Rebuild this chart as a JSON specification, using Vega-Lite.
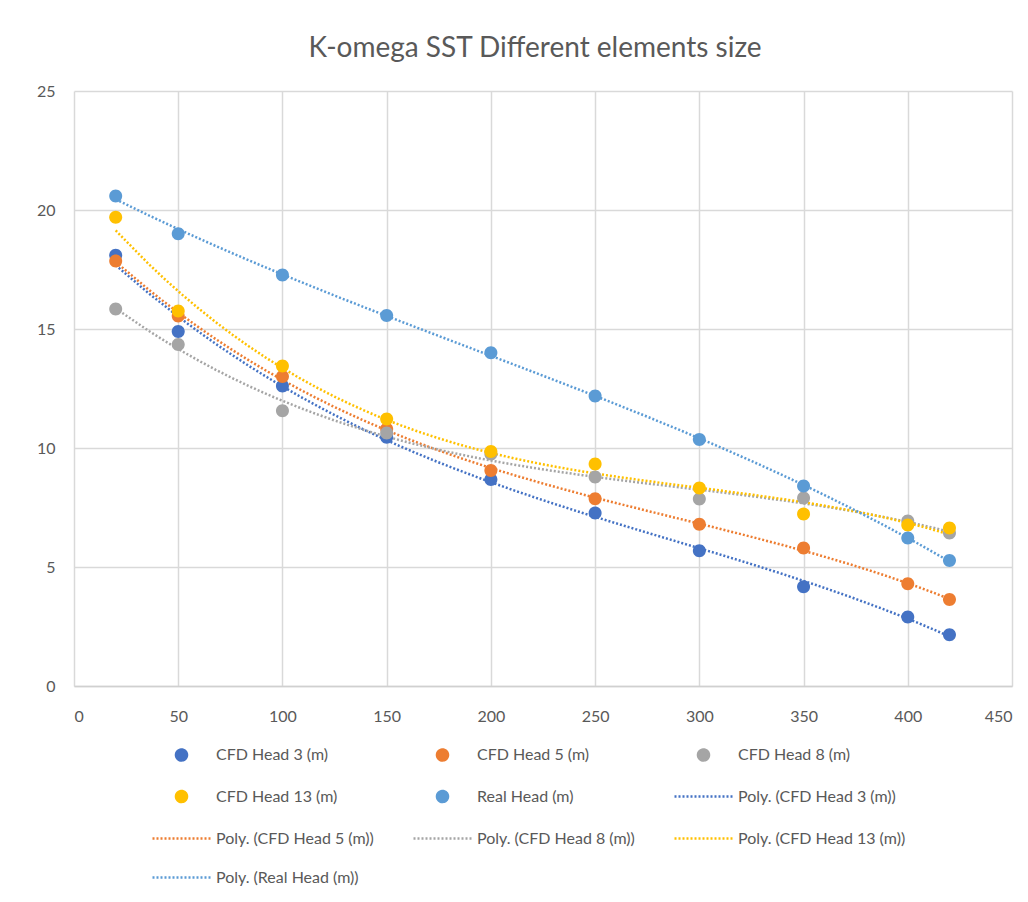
{
  "$schema": "https://vega.github.io/schema/vega-lite/v6.json",
  "width": 938,
  "height": 595,
  "padding": {"left": 36, "top": 35, "right": 16, "bottom": 10},
  "background": "white",
  "title": {
    "text": "K-omega SST Different elements size",
    "font": "Lato",
    "fontSize": 28,
    "fontWeight": "normal",
    "color": "#595959",
    "anchor": "middle",
    "dx": -8,
    "offset": 20
  },
  "data": {
    "values": [
      {"x": 20, "head": 18.1, "series": "CFD Head 3 (m)", "trend": "Poly. (CFD Head 3 (m))"},
      {"x": 50, "head": 14.9, "series": "CFD Head 3 (m)", "trend": "Poly. (CFD Head 3 (m))"},
      {"x": 100, "head": 12.6, "series": "CFD Head 3 (m)", "trend": "Poly. (CFD Head 3 (m))"},
      {"x": 150, "head": 10.45, "series": "CFD Head 3 (m)", "trend": "Poly. (CFD Head 3 (m))"},
      {"x": 200, "head": 8.68, "series": "CFD Head 3 (m)", "trend": "Poly. (CFD Head 3 (m))"},
      {"x": 250, "head": 7.27, "series": "CFD Head 3 (m)", "trend": "Poly. (CFD Head 3 (m))"},
      {"x": 300, "head": 5.68, "series": "CFD Head 3 (m)", "trend": "Poly. (CFD Head 3 (m))"},
      {"x": 350, "head": 4.17, "series": "CFD Head 3 (m)", "trend": "Poly. (CFD Head 3 (m))"},
      {"x": 400, "head": 2.9, "series": "CFD Head 3 (m)", "trend": "Poly. (CFD Head 3 (m))"},
      {"x": 420, "head": 2.15, "series": "CFD Head 3 (m)", "trend": "Poly. (CFD Head 3 (m))"},
      {"x": 20, "head": 17.86, "series": "CFD Head 5 (m)", "trend": "Poly. (CFD Head 5 (m))"},
      {"x": 50, "head": 15.55, "series": "CFD Head 5 (m)", "trend": "Poly. (CFD Head 5 (m))"},
      {"x": 100, "head": 13.0, "series": "CFD Head 5 (m)", "trend": "Poly. (CFD Head 5 (m))"},
      {"x": 150, "head": 10.8, "series": "CFD Head 5 (m)", "trend": "Poly. (CFD Head 5 (m))"},
      {"x": 200, "head": 9.05, "series": "CFD Head 5 (m)", "trend": "Poly. (CFD Head 5 (m))"},
      {"x": 250, "head": 7.87, "series": "CFD Head 5 (m)", "trend": "Poly. (CFD Head 5 (m))"},
      {"x": 300, "head": 6.8, "series": "CFD Head 5 (m)", "trend": "Poly. (CFD Head 5 (m))"},
      {"x": 350, "head": 5.8, "series": "CFD Head 5 (m)", "trend": "Poly. (CFD Head 5 (m))"},
      {"x": 400, "head": 4.3, "series": "CFD Head 5 (m)", "trend": "Poly. (CFD Head 5 (m))"},
      {"x": 420, "head": 3.63, "series": "CFD Head 5 (m)", "trend": "Poly. (CFD Head 5 (m))"},
      {"x": 20, "head": 15.84, "series": "CFD Head 8 (m)", "trend": "Poly. (CFD Head 8 (m))"},
      {"x": 50, "head": 14.35, "series": "CFD Head 8 (m)", "trend": "Poly. (CFD Head 8 (m))"},
      {"x": 100, "head": 11.57, "series": "CFD Head 8 (m)", "trend": "Poly. (CFD Head 8 (m))"},
      {"x": 150, "head": 10.63, "series": "CFD Head 8 (m)", "trend": "Poly. (CFD Head 8 (m))"},
      {"x": 200, "head": 9.75, "series": "CFD Head 8 (m)", "trend": "Poly. (CFD Head 8 (m))"},
      {"x": 250, "head": 8.78, "series": "CFD Head 8 (m)", "trend": "Poly. (CFD Head 8 (m))"},
      {"x": 300, "head": 7.86, "series": "CFD Head 8 (m)", "trend": "Poly. (CFD Head 8 (m))"},
      {"x": 350, "head": 7.9, "series": "CFD Head 8 (m)", "trend": "Poly. (CFD Head 8 (m))"},
      {"x": 400, "head": 6.93, "series": "CFD Head 8 (m)", "trend": "Poly. (CFD Head 8 (m))"},
      {"x": 420, "head": 6.43, "series": "CFD Head 8 (m)", "trend": "Poly. (CFD Head 8 (m))"},
      {"x": 20, "head": 19.7, "series": "CFD Head 13 (m)", "trend": "Poly. (CFD Head 13 (m))"},
      {"x": 50, "head": 15.76, "series": "CFD Head 13 (m)", "trend": "Poly. (CFD Head 13 (m))"},
      {"x": 100, "head": 13.45, "series": "CFD Head 13 (m)", "trend": "Poly. (CFD Head 13 (m))"},
      {"x": 150, "head": 11.22, "series": "CFD Head 13 (m)", "trend": "Poly. (CFD Head 13 (m))"},
      {"x": 200, "head": 9.85, "series": "CFD Head 13 (m)", "trend": "Poly. (CFD Head 13 (m))"},
      {"x": 250, "head": 9.33, "series": "CFD Head 13 (m)", "trend": "Poly. (CFD Head 13 (m))"},
      {"x": 300, "head": 8.32, "series": "CFD Head 13 (m)", "trend": "Poly. (CFD Head 13 (m))"},
      {"x": 350, "head": 7.23, "series": "CFD Head 13 (m)", "trend": "Poly. (CFD Head 13 (m))"},
      {"x": 400, "head": 6.76, "series": "CFD Head 13 (m)", "trend": "Poly. (CFD Head 13 (m))"},
      {"x": 420, "head": 6.64, "series": "CFD Head 13 (m)", "trend": "Poly. (CFD Head 13 (m))"},
      {"x": 20, "head": 20.59, "series": "Real Head (m)", "trend": "Poly. (Real Head (m))"},
      {"x": 50, "head": 19.0, "series": "Real Head (m)", "trend": "Poly. (Real Head (m))"},
      {"x": 100, "head": 17.27, "series": "Real Head (m)", "trend": "Poly. (Real Head (m))"},
      {"x": 150, "head": 15.57, "series": "Real Head (m)", "trend": "Poly. (Real Head (m))"},
      {"x": 200, "head": 14.0, "series": "Real Head (m)", "trend": "Poly. (Real Head (m))"},
      {"x": 250, "head": 12.18, "series": "Real Head (m)", "trend": "Poly. (Real Head (m))"},
      {"x": 300, "head": 10.36, "series": "Real Head (m)", "trend": "Poly. (Real Head (m))"},
      {"x": 350, "head": 8.4, "series": "Real Head (m)", "trend": "Poly. (Real Head (m))"},
      {"x": 400, "head": 6.22, "series": "Real Head (m)", "trend": "Poly. (Real Head (m))"},
      {"x": 420, "head": 5.27, "series": "Real Head (m)", "trend": "Poly. (Real Head (m))"}
    ]
  },
  "config": {
    "font": "Lato",
    "view": {"stroke": null},
    "axis": {
      "labelFont": "Lato",
      "labelFontSize": 16,
      "labelColor": "#595959",
      "gridColor": "#D9D9D9",
      "gridWidth": 1.5,
      "ticks": false,
      "title": null
    },
    "legend": {
      "title": null,
      "orient": "none",
      "legendX": 77,
      "legendY": 633,
      "direction": "horizontal",
      "columns": 3,
      "columnPadding": 34,
      "rowPadding": -5,
      "labelFont": "Lato",
      "labelFontSize": 16,
      "labelColor": "#595959",
      "labelLimit": 300,
      "labelOffset": 4,
      "symbolSize": 3364,
      "symbolStrokeWidth": 2.5,
      "symbolOpacity": 1
    }
  },
  "layer": [
    {
      "transform": [
        {"regression": "head", "on": "x", "groupby": ["trend"], "method": "poly", "order": 3}
      ],
      "mark": {"type": "line", "strokeWidth": 2.5},
      "encoding": {
        "x": {
          "field": "x", "type": "quantitative",
          "scale": {"domain": [0, 450], "nice": false},
          "axis": {"values": [0, 50, 100, 150, 200, 250, 300, 350, 400, 450], "labelPadding": 22, "domainColor": "#D0D0D0", "domainWidth": 1.5}
        },
        "y": {
          "field": "head", "type": "quantitative",
          "scale": {"domain": [0, 25], "nice": false},
          "axis": {"values": [0, 5, 10, 15, 20, 25], "labelPadding": 19, "domain": false}
        },
        "stroke": {
          "field": "trend", "type": "nominal",
          "scale": {
            "domain": ["CFD Head 3 (m)", "CFD Head 5 (m)", "CFD Head 8 (m)", "CFD Head 13 (m)", "Real Head (m)", "Poly. (CFD Head 3 (m))", "Poly. (CFD Head 5 (m))", "Poly. (CFD Head 8 (m))", "Poly. (CFD Head 13 (m))", "Poly. (Real Head (m))"],
            "range": ["#4472C4", "#ED7D31", "#A5A5A5", "#FFC000", "#5B9BD5", "#4472C4", "#ED7D31", "#A5A5A5", "#FFC000", "#5B9BD5"]
          }
        },
        "strokeDash": {
          "field": "trend", "type": "nominal",
          "scale": {
            "domain": ["CFD Head 3 (m)", "CFD Head 5 (m)", "CFD Head 8 (m)", "CFD Head 13 (m)", "Real Head (m)", "Poly. (CFD Head 3 (m))", "Poly. (CFD Head 5 (m))", "Poly. (CFD Head 8 (m))", "Poly. (CFD Head 13 (m))", "Poly. (Real Head (m))"],
            "range": [[1, 0], [1, 0], [1, 0], [1, 0], [1, 0], [2, 2], [2, 2], [2, 2], [2, 2], [2, 2]]
          }
        }
      }
    },
    {
      "mark": {"type": "point", "filled": true, "size": 4680, "opacity": 1, "strokeWidth": 0},
      "encoding": {
        "x": {"field": "x", "type": "quantitative"},
        "y": {"field": "head", "type": "quantitative"},
        "fill": {
          "field": "series", "type": "nominal",
          "scale": {
            "domain": ["CFD Head 3 (m)", "CFD Head 5 (m)", "CFD Head 8 (m)", "CFD Head 13 (m)", "Real Head (m)", "Poly. (CFD Head 3 (m))", "Poly. (CFD Head 5 (m))", "Poly. (CFD Head 8 (m))", "Poly. (CFD Head 13 (m))", "Poly. (Real Head (m))"],
            "range": ["#4472C4", "#ED7D31", "#A5A5A5", "#FFC000", "#5B9BD5", "#4472C4", "#ED7D31", "#A5A5A5", "#FFC000", "#5B9BD5"]
          }
        },
        "shape": {
          "field": "series", "type": "nominal",
          "scale": {
            "domain": ["CFD Head 3 (m)", "CFD Head 5 (m)", "CFD Head 8 (m)", "CFD Head 13 (m)", "Real Head (m)", "Poly. (CFD Head 3 (m))", "Poly. (CFD Head 5 (m))", "Poly. (CFD Head 8 (m))", "Poly. (CFD Head 13 (m))", "Poly. (Real Head (m))"],
            "range": [
              "M0,-0.19C0.105,-0.19,0.19,-0.105,0.19,0C0.19,0.105,0.105,0.19,0,0.19C-0.105,0.19,-0.19,0.105,-0.19,0C-0.19,-0.105,-0.105,-0.19,0,-0.19Z",
              "M0,-0.19C0.105,-0.19,0.19,-0.105,0.19,0C0.19,0.105,0.105,0.19,0,0.19C-0.105,0.19,-0.19,0.105,-0.19,0C-0.19,-0.105,-0.105,-0.19,0,-0.19Z",
              "M0,-0.19C0.105,-0.19,0.19,-0.105,0.19,0C0.19,0.105,0.105,0.19,0,0.19C-0.105,0.19,-0.19,0.105,-0.19,0C-0.19,-0.105,-0.105,-0.19,0,-0.19Z",
              "M0,-0.19C0.105,-0.19,0.19,-0.105,0.19,0C0.19,0.105,0.105,0.19,0,0.19C-0.105,0.19,-0.19,0.105,-0.19,0C-0.19,-0.105,-0.105,-0.19,0,-0.19Z",
              "M0,-0.19C0.105,-0.19,0.19,-0.105,0.19,0C0.19,0.105,0.105,0.19,0,0.19C-0.105,0.19,-0.19,0.105,-0.19,0C-0.19,-0.105,-0.105,-0.19,0,-0.19Z",
              "M-1,0H1", "M-1,0H1", "M-1,0H1", "M-1,0H1", "M-1,0H1"
            ]
          }
        }
      }
    }
  ]
}
